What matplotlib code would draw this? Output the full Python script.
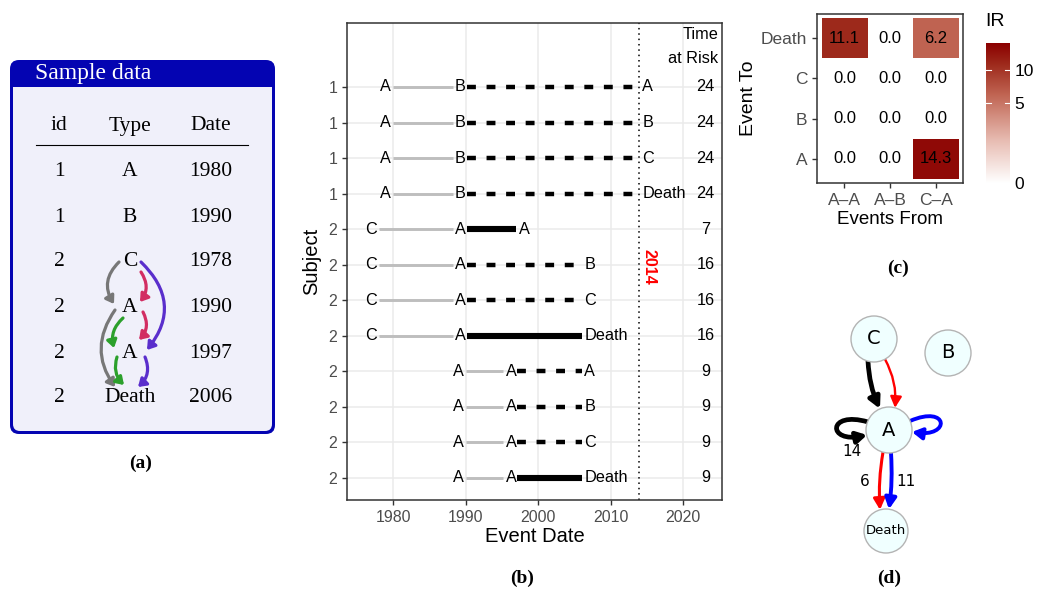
import numpy as np
import matplotlib
matplotlib.use('Agg')
import matplotlib.pyplot as plt
from matplotlib.patches import FancyArrowPatch, FancyBboxPatch, Circle, Rectangle
from matplotlib.path import Path
from matplotlib.colors import LinearSegmentedColormap, PowerNorm

plt.rcParams['font.family'] = ['Liberation Sans', 'DejaVu Sans']

W, H = 1038, 590

# (a) sample data table
tab_id = [1, 1, 2, 2, 2, 2]
tab_type = ['A', 'B', 'C', 'A', 'A', 'Death']
tab_date = [1980, 1990, 1978, 1990, 1997, 2006]

# (b) transitions per subject
subject = [1, 1, 1, 1, 2, 2, 2, 2, 2, 2, 2, 2]
ev_from = ['A'] * 4 + ['C'] * 4 + ['A'] * 4
date_from = [1980] * 4 + [1978] * 4 + [1990] * 4
ev_mid = ['B'] * 4 + ['A'] * 8
date_mid = [1990] * 8 + [1997] * 4
ev_to = ['A', 'B', 'C', 'Death'] * 3
date_to = [2014] * 4 + [1997, 2006, 2006, 2006] + [2006] * 4
observed = [False] * 4 + [True, False, False, True] + [False, False, False, True]
time_at_risk = [24, 24, 24, 24, 7, 16, 16, 16, 9, 9, 9, 9]
censor_year = 2014

# (c) incidence rates
ir_from = ['A–A', 'A–B', 'C–A']
ir_to = ['Death', 'C', 'B', 'A']
ir_values = np.array([[11.1, 0.0, 6.2],
                      [0.0, 0.0, 0.0],
                      [0.0, 0.0, 0.0],
                      [0.0, 0.0, 14.3]])
ir_ticks = [0, 5, 10]
ir_limit = 15.4

# (d) transition network
nodes = ['C', 'B', 'A', 'Death']
edges = [('C', 'A', 'black'), ('C', 'A', 'red'), ('A', 'Death', 'red'), ('A', 'Death', 'blue')]
loops = [('A', 'black'), ('A', 'blue')]
edge_labels = ['14', '6', '11']


def px_box(l, t, r, b):
    return [l / W, 1 - b / H, (r - l) / W, (b - t) / H]


fig = plt.figure(figsize=(W / 100, H / 100), dpi=100)
ov = fig.add_axes([0, 0, 1, 1])
ov.set_xlim(0, W)
ov.set_ylim(H, 0)
ov.axis('off')

serif = 'Liberation Serif'

# ---------------- panel (a)
blue = '#0404B2'
ov.add_patch(FancyBboxPatch((10, 60), 265, 374, boxstyle='round,pad=0,rounding_size=9',
                            fc=blue, ec='none'))
ov.add_patch(FancyBboxPatch((13, 80), 259, 351, boxstyle='round,pad=0,rounding_size=7',
                            fc='#F0F0FA', ec='none'))
ov.add_patch(Rectangle((13, 80), 259, 7, fc=blue, ec='none'))
ov.text(35, 73, 'Sample data', color='white', family=serif, fontsize=17, va='center')

col_x = [59, 130, 211]
ov.text(col_x[0], 126, 'id', family=serif, fontsize=15.5, ha='center', va='center')
ov.text(col_x[1], 126, 'Type', family=serif, fontsize=15.5, ha='center', va='center')
ov.text(col_x[2], 126, 'Date', family=serif, fontsize=15.5, ha='center', va='center')
ov.plot([36, 248], [145, 145], color='black', lw=0.8)
row_y = [172, 217, 262, 307, 354, 398]
for i in range(len(tab_id)):
    ov.text(col_x[0], row_y[i], str(tab_id[i]), family=serif, fontsize=15.5, ha='center', va='center')
    ov.text(col_x[1], row_y[i], tab_type[i], family=serif, fontsize=15.5, ha='center', va='center')
    ov.text(col_x[2], row_y[i], str(tab_date[i]), family=serif, fontsize=15.5, ha='center', va='center')

# arrows between table rows: (row from, row to, dx0, dy0, dx1, dy1, rad, colour)
tx = col_x[1]
arrows = [
    (2, 3, -11, 0, -16, -3, 0.4, '#777777'),
    (3, 5, -15, 3, -15, -11, 0.35, '#777777'),
    (2, 3, 11, 10, 10, -5, -0.35, '#D22D62'),
    (3, 4, 13, 5, 9, -14, -0.35, '#D22D62'),
    (2, 4, 11, 0, 17, -4, -0.45, '#5A2ECC'),
    (4, 5, 15, 3, 8, -11, -0.35, '#5A2ECC'),
    (3, 4, -7, 11, -16, -6, 0.3, '#2CA02C'),
    (4, 5, -13, 3, -6, -13, 0.3, '#2CA02C'),
]
for r0, r1, dx0, dy0, dx1, dy1, rad, c in arrows:
    ov.add_patch(FancyArrowPatch((tx + dx0, row_y[r0] + dy0), (tx + dx1, row_y[r1] + dy1),
                                 connectionstyle=f'arc3,rad={rad}',
                                 arrowstyle='-|>,head_length=0.45,head_width=0.3',
                                 mutation_scale=10, color=c, lw=2.3, shrinkA=0, shrinkB=0))

# ---------------- panel (b)
axb = fig.add_axes(px_box(347, 23, 722, 500))
rows = np.arange(len(subject))
for i in rows:
    axb.plot([date_from[i], date_mid[i] - 1.8], [i, i], color='#BEBEBE', lw=2.1,
             solid_capstyle='butt', zorder=3)
    if observed[i]:
        axb.plot([date_mid[i] + 0.15, date_to[i]], [i, i], color='black', lw=4.4,
                 solid_capstyle='butt', zorder=3)
    else:
        axb.plot([date_mid[i] + 0.15, date_to[i]], [i, i], color='black', lw=3.2,
                 dashes=(2.0, 2.4), dash_capstyle='butt', zorder=3)
    axb.text(date_from[i] - 0.3, i, ev_from[i], ha='right', va='center', fontsize=11.7)
    axb.text(date_mid[i], i, ev_mid[i], ha='right', va='center', fontsize=11.7)
    axb.text(date_to[i] + 0.4, i, ev_to[i], ha='left', va='center', fontsize=11.7)
    axb.text(2023.1, i, str(time_at_risk[i]), ha='center', va='center', fontsize=11.7)

axb.text(2024.9, -1.47, 'Time', ha='right', va='center', fontsize=11.7)
axb.text(2024.9, -0.8, 'at Risk', ha='right', va='center', fontsize=11.7)
axb.axvline(censor_year, color='black', ls=(0, (1, 2.5)), lw=1.1, zorder=2)
axb.text(censor_year + 1.3, 5.05, str(censor_year), color='red', fontweight='bold',
         rotation=270, ha='center', va='center', fontsize=11.5)

axb.set_xlim(1973.6, 2025.4)
axb.set_ylim(11.62, -1.8)
axb.set_xticks([1980, 1990, 2000, 2010, 2020])
axb.set_yticks(rows)
axb.set_yticklabels([str(s) for s in subject])
axb.grid(True, color='#EBEBEB', lw=1.1, zorder=0)
axb.set_axisbelow(True)
for sp in axb.spines.values():
    sp.set_color('#333333')
    sp.set_linewidth(1.1)
axb.tick_params(colors='#333333', labelcolor='#4D4D4D', labelsize=11.4, length=3.5, width=1)
axb.set_xlabel('Event Date', fontsize=14.5, labelpad=2)
axb.set_ylabel('Subject', fontsize=14.5, labelpad=5)

# ---------------- panel (c)
cmap = LinearSegmentedColormap.from_list('ir', [(0, '#FFFFFF'), (0.3, '#E8BDB3'), (0.634, '#C06452'),
                                                (0.849, '#9E2A1C'), (1, '#8B0000')])
norm = PowerNorm(0.5, vmin=0, vmax=ir_limit)
axc = fig.add_axes(px_box(817, 14, 963, 183))
axc.imshow(ir_values, cmap=cmap, norm=norm, aspect='auto', interpolation='nearest')
for r in range(len(ir_to)):
    for c in range(len(ir_from)):
        axc.text(c, r, f'{ir_values[r, c]:.1f}', ha='center', va='center', fontsize=12)
axc.set_xlim(-0.6, 2.6)
axc.set_ylim(3.6, -0.6)
axc.set_xticks(range(len(ir_from)))
axc.set_xticklabels(ir_from)
axc.set_yticks(range(len(ir_to)))
axc.set_yticklabels(ir_to)
for sp in axc.spines.values():
    sp.set_color('#333333')
    sp.set_linewidth(1.1)
axc.tick_params(colors='#333333', labelcolor='#4D4D4D', labelsize=12.5, length=3.5, width=1)
axc.set_xlabel('Events From', fontsize=13.5, labelpad=2)
axc.set_ylabel('Event To', fontsize=14, labelpad=3)

cax = fig.add_axes(px_box(986, 43, 1010, 183))
top = np.sqrt(ir_limit)
cax.imshow(np.linspace(0, 1, 256)[:, None], cmap=cmap, aspect='auto', origin='lower',
           extent=(0, 1, 0, top))
for t in ir_ticks[1:]:
    cax.plot([0, 0.2], [np.sqrt(t)] * 2, color='white', lw=0.8)
    cax.plot([0.8, 1], [np.sqrt(t)] * 2, color='white', lw=0.8)
cax.set_xlim(0, 1)
cax.set_ylim(0, top)
cax.set_xticks([])
cax.set_yticks(np.sqrt(ir_ticks))
cax.set_yticklabels([str(t) for t in ir_ticks])
cax.yaxis.tick_right()
cax.tick_params(length=0, labelsize=12.5, labelcolor='black', pad=3)
for sp in cax.spines.values():
    sp.set_visible(False)
ov.text(985, 22, 'IR', fontsize=14, ha='left', va='center')

# ---------------- panel (d)
node_pos = {'C': (874, 339), 'B': (948, 353), 'A': (889, 430), 'Death': (886, 531)}
node_r = {'C': 23, 'B': 23, 'A': 23, 'Death': 22}
node_fs = {'C': 14, 'B': 14, 'A': 14, 'Death': 9.5}
for n in nodes:
    ov.add_patch(Circle(node_pos[n], node_r[n], fc='#F0FFFF', ec='#B4B4B4', lw=1, zorder=3))
    ov.text(node_pos[n][0], node_pos[n][1], n, family='DejaVu Sans', fontsize=node_fs[n],
            ha='center', va='center', zorder=4)


def rim(n, dx, side):
    cx, cy = node_pos[n]
    r = node_r[n]
    return (cx + dx, cy + side * np.sqrt(r ** 2 - dx ** 2))


# (dx start, dx end, rad, width) per edge
edge_style = [(-6, -9, 0.1, 3.4), (11, 6, -0.15, 1.7), (-6, -6, 0.06, 2.2), (2, 3, -0.05, 2.8)]
for (a, b, c), (d0, d1, rad, lw) in zip(edges, edge_style):
    ov.add_patch(FancyArrowPatch(rim(a, d0, 1), rim(b, d1, -1), connectionstyle=f'arc3,rad={rad}',
                                 arrowstyle='-|>,head_length=0.5,head_width=0.26',
                                 mutation_scale=13, color=c, lw=lw, shrinkA=0, shrinkB=0, zorder=2))

loop_style = [(-1, 3.4), (1, 2.8)]
for (n, c), (side, lw) in zip(loops, loop_style):
    cx, cy = node_pos[n]
    if side < 0:
        verts = [(cx - 21, cy - 8), (cx - 62, cy - 20), (cx - 62, cy + 14), (cx - 22, cy + 5)]
    else:
        verts = [(cx + 21, cy - 9), (cx + 60, cy - 26), (cx + 62, cy + 8), (cx + 23, cy + 2)]
    p = Path(verts, [Path.MOVETO, Path.CURVE4, Path.CURVE4, Path.CURVE4])
    ov.add_patch(FancyArrowPatch(path=p, arrowstyle='-|>,head_length=0.45,head_width=0.26',
                                 mutation_scale=13, color=c, lw=lw, zorder=2))

for lab, (x, y) in zip(edge_labels, [(852, 452), (865, 482), (906, 482)]):
    ov.text(x, y, lab, family='DejaVu Sans', fontsize=11, ha='center', va='center')

# captions
for lab, (x, y) in zip(['(a)', '(b)', '(c)', '(d)'], [(141, 463), (522, 578), (898, 268), (889, 578)]):
    ov.text(x, y, lab, family=serif, fontweight='bold', fontsize=14, ha='center', va='center')

fig.savefig('out.png', dpi=100)
